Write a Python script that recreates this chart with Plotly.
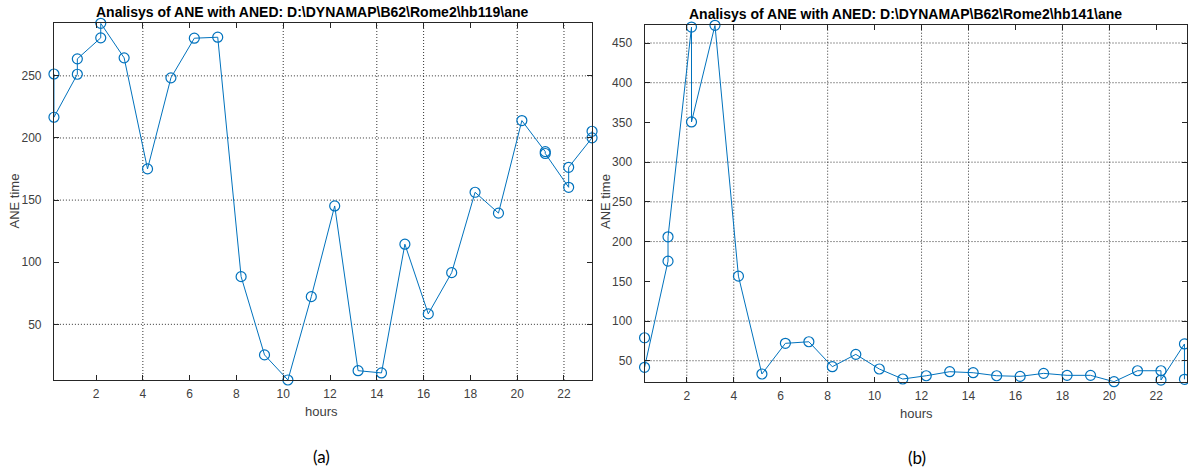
import plotly.graph_objects as go

# ---- data ----
hours_a = [0.2, 0.2, 1.2, 1.2, 2.2, 2.2, 3.2, 4.2, 5.2, 6.2, 7.2, 8.2, 9.2, 10.2, 11.2,
           12.2, 13.2, 14.2, 15.2, 16.2, 17.2, 18.2, 19.2, 20.2, 21.2, 21.2, 22.2, 22.2,
           23.2, 23.2]
ane_a = [251.5, 216.7, 251.3, 263.7, 280.6, 292.3, 264.5, 175.1, 248.4, 280.3, 281.1,
         88.4, 25.4, 5.2, 72.3, 145.3, 12.7, 10.9, 114.5, 58.4, 91.6, 156.3, 139.5,
         214.0, 189.0, 187.5, 160.3, 176.4, 200.1, 205.4]

hours_b = [0.2, 0.2, 1.2, 1.2, 2.2, 2.2, 3.2, 4.2, 5.2, 6.2, 7.2, 8.2, 9.2, 10.2, 11.2,
           12.2, 13.2, 14.2, 15.2, 16.2, 17.2, 18.2, 19.2, 20.2, 21.2, 22.2, 22.2,
           23.2, 23.2]
ane_b = [78.9, 41.7, 175.4, 206.0, 470.1, 350.6, 472.3, 156.5, 33.3, 71.9, 73.9,
         42.5, 58.0, 39.6, 27.0, 31.1, 36.2, 34.9, 31.1, 30.3, 34.1, 31.6, 31.6,
         23.6, 37.4, 37.4, 25.7, 71.1, 26.6]

x_ticks = [2, 4, 6, 8, 10, 12, 14, 16, 18, 20, 22]
y_ticks_a = [50, 100, 150, 200, 250]
y_ticks_b = [50, 100, 150, 200, 250, 300, 350, 400, 450]

# grid lines that remain visible in the (downscaled) reference image
grid_x_a = [4, 10, 14, 16, 20, 22]
grid_y_a = [50, 150, 200, 250]
grid_x_b = [2, 4, 8, 12, 14, 18, 20]
grid_y_b = [50, 100, 200, 250, 300, 400, 450]

title_a = "Analisys of ANE with ANED: D:\\DYNAMAP\\B62\\Rome2\\hb119\\ane"
title_b = "Analisys of ANE with ANED: D:\\DYNAMAP\\B62\\Rome2\\hb141\\ane"

# ---- styling ----
W, H = 1188, 470
BLUE = "#0072BD"
AX = "#262626"
GRID = "rgba(30,30,30,0.9)"
FONT = "Liberation Sans, Arial, sans-serif"
EPS = 0.002


def px(x):
    return x / W


def py(y):
    return 1 - y / H


fig = go.Figure()
for xs, ys, xa, ya in [(hours_a, ane_a, "x", "y"), (hours_b, ane_b, "x2", "y2")]:
    fig.add_trace(go.Scatter(
        x=xs, y=ys, xaxis=xa, yaxis=ya, mode="lines+markers", cliponaxis=False,
        line=dict(color=BLUE, width=1),
        marker=dict(symbol="circle-open", size=10, color=BLUE, line=dict(width=1.2)),
        showlegend=False, hoverinfo="x+y"))

axis_common = dict(
    showline=True, linecolor=AX, linewidth=1, mirror="ticks",
    ticks="inside", ticklen=5, tickcolor=AX, tickwidth=1,
    showgrid=False, zeroline=False,
    tickfont=dict(family=FONT, size=12, color="#404040"),
)

fig.update_layout(
    width=W, height=H, margin=dict(l=0, r=0, t=0, b=0, autoexpand=False),
    paper_bgcolor="white", plot_bgcolor="white",
    xaxis=dict(domain=[px(53.9), px(592.1)], anchor="y",
               range=[min(hours_a) - EPS, max(hours_a) + EPS],
               tickvals=x_ticks, ticklabelstandoff=3, **axis_common),
    yaxis=dict(domain=[py(380), py(23.3)], anchor="x",
               range=[min(ane_a) - EPS, max(ane_a) + EPS],
               tickvals=y_ticks_a, ticklabelstandoff=9, **axis_common),
    xaxis2=dict(domain=[px(644.5), px(1186.8)], anchor="y2",
                range=[min(hours_b) - EPS, max(hours_b) + 0.1],
                tickvals=x_ticks, ticklabelstandoff=3, **axis_common),
    yaxis2=dict(domain=[py(381.7), py(25.3)], anchor="x2",
                range=[min(ane_b) - EPS, max(ane_b) + EPS],
                tickvals=y_ticks_b, ticklabelstandoff=9, **axis_common),
)

shapes = []
for gx, gy, xr, yr in [(grid_x_a, grid_y_a, "x", "y"), (grid_x_b, grid_y_b, "x2", "y2")]:
    for v in gx:
        shapes.append(dict(type="line", xref=xr, yref=yr + " domain", x0=v, x1=v,
                           y0=0, y1=1, layer="below",
                           line=dict(color=GRID, width=1, dash="1px,2px")))
    for v in gy:
        shapes.append(dict(type="line", xref=xr + " domain", yref=yr, x0=0, x1=1,
                           y0=v, y1=v, layer="below",
                           line=dict(color=GRID, width=1, dash="1px,2px")))
fig.update_layout(shapes=shapes)

ann = []
ann.append(dict(text="<b>" + title_a + "</b>", x=px(312), y=py(12),
                font=dict(family=FONT, size=14, color="black")))
ann.append(dict(text="<b>" + title_b + "</b>", x=px(905), y=py(14),
                font=dict(family=FONT, size=14, color="black")))
ann.append(dict(text="hours", x=px(321.7), y=py(411.5),
                font=dict(family=FONT, size=13, color="#404040")))
ann.append(dict(text="hours", x=px(916), y=py(413),
                font=dict(family=FONT, size=13, color="#404040")))
ann.append(dict(text="ANE time", x=px(13.5), y=py(201), textangle=-90,
                font=dict(family=FONT, size=13, color="#404040")))
ann.append(dict(text="ANE time", x=px(605), y=py(202), textangle=-90,
                font=dict(family=FONT, size=13, color="#404040")))
ann.append(dict(text="(a)", x=px(321.7), y=py(456.5),
                font=dict(family="Lato, Noto Sans, sans-serif", size=17, color="black")))
ann.append(dict(text="(b)", x=px(917), y=py(457),
                font=dict(family="Lato, Noto Sans, sans-serif", size=17, color="black")))
for a in ann:
    a.update(xref="paper", yref="paper", xanchor="center", yanchor="middle",
             showarrow=False)
fig.update_layout(annotations=ann)

fig.write_html(
    "out.html",
    config={"displayModeBar": False},
    post_script="document.body.style.margin='0';document.body.style.overflow='hidden';",
)
